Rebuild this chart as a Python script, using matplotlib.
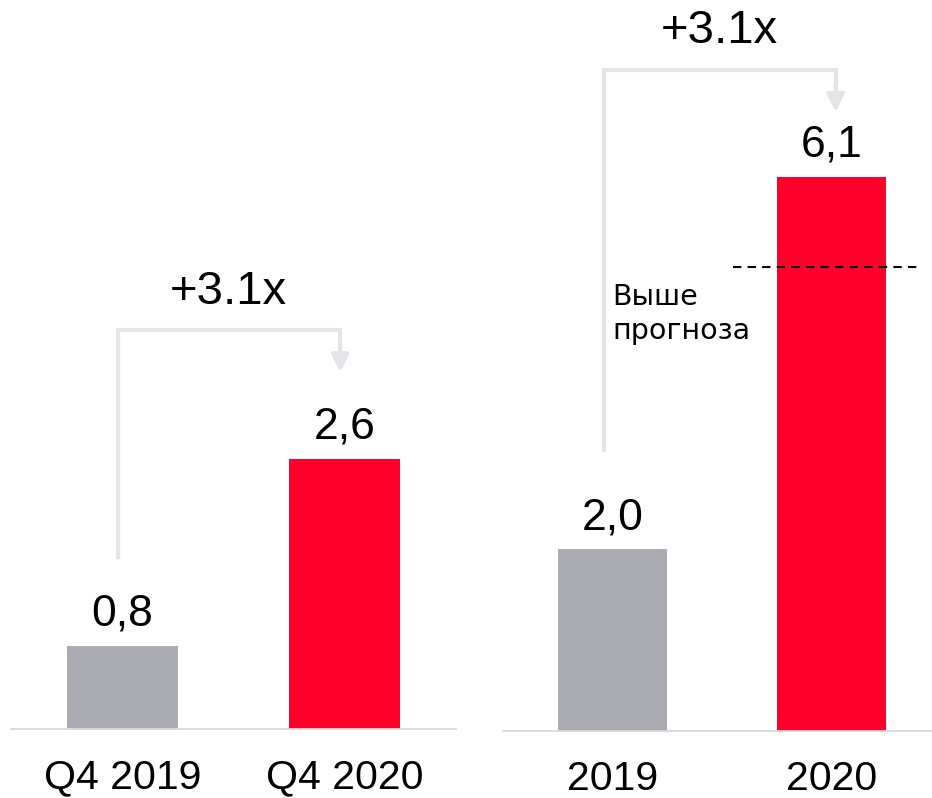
import matplotlib.pyplot as plt

# data
q_labels = ["Q4 2019", "Q4 2020"]
q_values = [0.8, 2.6]
y_labels = ["2019", "2020"]
y_values = [2.0, 6.1]
forecast_2020 = 5.1
growth_label = "+3.1x"
forecast_note = "Выше\nпрогноза"

GRAY = "#ABACB1"
RED = "#FF002B"
ARROW = "#E4E5E8"
AXIS = "#D9D9D9"

plt.rcParams["font.family"] = ["Liberation Sans", "DejaVu Sans"]

W, H = 932, 798
fig = plt.figure(figsize=(W / 100, H / 100), dpi=100)


def panel(rect, ymax, xmax, labels, values):
    ax = fig.add_axes(rect)
    x = list(range(len(values)))
    ax.bar(x, values, width=0.5, color=[GRAY, RED])
    ax.set_xlim(-0.5, xmax)
    ax.set_ylim(0, ymax)
    for s in ["left", "right", "top"]:
        ax.spines[s].set_visible(False)
    ax.spines["bottom"].set_color(AXIS)
    ax.spines["bottom"].set_linewidth(1.3)
    ax.set_yticks([])
    ax.set_xticks(x, labels, fontsize=29.5)
    ax.tick_params(axis="x", length=0, pad=21)
    for xi, v in zip(x, values):
        ax.annotate(
            f"{v:.1f}".replace(".", ","),
            (xi, v),
            xytext=(0, 20),
            textcoords="offset pixels",
            ha="center",
            va="baseline",
            fontsize=32,
        )
    return ax


def bracket(ax, x0, y0, x1, ytop, ytip):
    ax.plot([x0, x0, x1, x1], [y0, ytop, ytop, ytip + 0.15],
            color=ARROW, lw=3, solid_joinstyle="miter", clip_on=False)
    ax.annotate("", xy=(x1, ytip), xytext=(x1, ytip + 0.3),
                arrowprops=dict(arrowstyle="-|>", color=ARROW, lw=3,
                                mutation_scale=26, shrinkA=0, shrinkB=0))


# left panel: quarter
ax1 = panel([11 / W, 69 / H, 445 / W, 729 / H], 729 / 104, 1.5, q_labels, q_values)
bracket(ax1, -0.02, 1.65, 0.98, 3.84, 3.43)
ax1.text(0.475, 4.2, growth_label, ha="center", va="center", fontsize=34)

# right panel: full year
ax2 = panel([503 / W, 67 / H, 429 / W, 731 / H], 731 / 90.9, 1.46, y_labels, y_values)
bracket(ax2, -0.04, 3.09, 1.02, 7.27, 6.81)
ax2.text(0.49, 7.7, growth_label, ha="center", va="center", fontsize=34)
ax2.hlines(forecast_2020, 0.553, 1.397, colors="black", linestyles=(0, (4, 3)), lw=1.5)
ax2.text(0.0, 4.93, forecast_note, ha="left", va="top", fontsize=20.5,
         family="DejaVu Sans", linespacing=1.3)

plt.savefig("out.png", dpi=100)
